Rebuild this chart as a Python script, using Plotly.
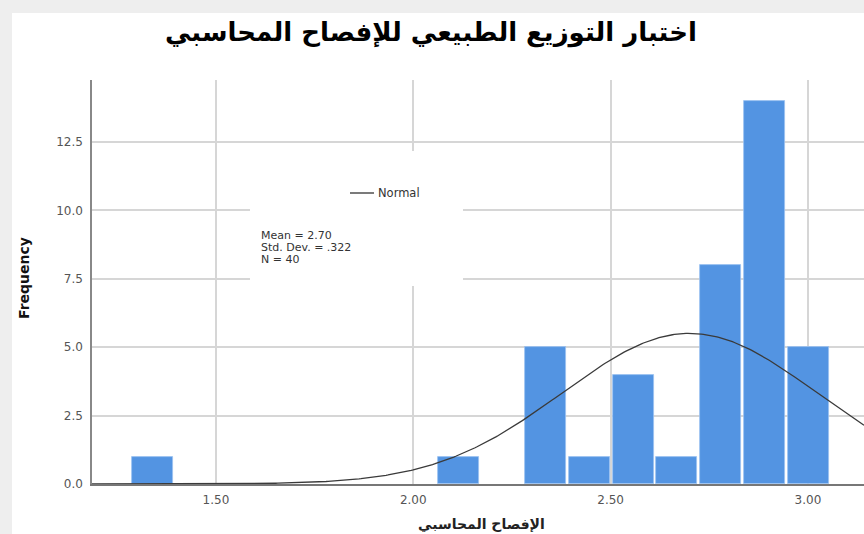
import numpy as np
import plotly.graph_objects as go

# ---- data ----
bin_centers = [1.339, 2.114, 2.336, 2.447, 2.558, 2.668, 2.779, 2.891, 3.001]
frequencies = [1, 1, 5, 1, 4, 1, 8, 14, 5]
bin_width = 0.1111
stat_mean = 2.70
stat_sd = 0.322
stat_n = 40
x_tick_vals = [1.5, 2.0, 2.5, 3.0]
x_tick_text = ["1.50", "2.00", "2.50", "3.00"]
y_tick_vals = [0, 2.5, 5, 7.5, 10, 12.5]
y_tick_text = ["0.0", "2.5", "5.0", "7.5", "10.0", "12.5"]
title_text = "اختبار التوزيع الطبيعي للإفصاح المحاسبي"
x_title = "الإفصاح المحاسبي"
y_title = "Frequency"
stats_lines = ["Mean = 2.70", "Std. Dev. = .322", "N = 40"]

# ---- layout geometry ----
W, H = 864, 534
L, R, T, B = 92, 0, 80, 50
XMIN, XMAX = 1.186, 3.142
YMIN, YMAX = 0, 14.77

def px(xp):  # pixel -> paper x
    return (xp - L) / (W - L - R)

def py(yp):  # pixel -> paper y
    return (H - B - yp) / (H - T - B)

def dx(xp):  # pixel -> data x
    return XMIN + (xp - L) / (W - L - R) * (XMAX - XMIN)

def dy(yp):  # pixel -> data y
    return YMIN + (H - B - yp) / (H - T - B) * (YMAX - YMIN)

FONT = "DejaVu Sans"

fig = go.Figure()
fig.add_trace(go.Bar(
    x=bin_centers, y=frequencies, width=0.104,
    marker=dict(color="#5394E2", line=dict(color="#9CC2F0", width=0.8)),
    showlegend=False, hoverinfo="skip",
))

xs = np.linspace(XMIN, XMAX, 400)
ys = stat_n * bin_width * np.exp(-0.5 * ((xs - stat_mean) / stat_sd) ** 2) / (stat_sd * np.sqrt(2 * np.pi))
fig.add_trace(go.Scatter(x=xs, y=ys, mode="lines",
                         line=dict(color="#3a3a3a", width=1.3),
                         showlegend=False, hoverinfo="skip", cliponaxis=True))

shapes = [
    # page frame
    dict(type="rect", xref="paper", yref="paper", layer="below",
         x0=px(12), x1=px(W + 5), y0=py(H + 5), y1=py(13),
         fillcolor="white", line=dict(width=0)),
    # white legend box over gridlines
    dict(type="rect", xref="x", yref="y", layer="between",
         x0=dx(250), x1=dx(463), y0=dy(286), y1=dy(151),
         fillcolor="white", line=dict(width=0)),
    # legend line sample
    dict(type="line", xref="paper", yref="paper",
         x0=px(350), x1=px(374), y0=py(193), y1=py(193),
         line=dict(color="#333333", width=1.3)),
]

annotations = [
    dict(text="<b>" + title_text + "</b>", xref="paper", yref="paper",
         x=px(431), y=py(33), xanchor="center", yanchor="middle", showarrow=False,
         font=dict(family=FONT, size=26, color="#000000")),
    dict(text="<b>" + x_title + "</b>", xref="paper", yref="paper",
         x=px(481), y=py(524), xanchor="center", yanchor="middle", showarrow=False,
         font=dict(family=FONT, size=14, color="#222222")),
    dict(text="<b>" + y_title + "</b>", xref="paper", yref="paper", textangle=-90,
         x=px(24), y=py(278), xanchor="center", yanchor="middle", showarrow=False,
         font=dict(family=FONT, size=14, color="#111111")),
    dict(text="Normal", xref="paper", yref="paper",
         x=px(376), y=py(193), xanchor="left", yanchor="middle", showarrow=False,
         font=dict(family=FONT, size=11.5, color="#333333")),
]
for i, line in enumerate(stats_lines):
    annotations.append(dict(text=line, xref="paper", yref="paper",
                            x=px(259), y=py(235 + 12 * i), xanchor="left", yanchor="middle",
                            showarrow=False, font=dict(family=FONT, size=11, color="#333333")))

fig.update_layout(
    width=W, height=H, autosize=False,
    margin=dict(l=L, r=R, t=T, b=B, pad=0),
    paper_bgcolor="#eeeeee", plot_bgcolor="white",
    font=dict(family=FONT, size=12, color="#555555"),
    bargap=0,
    xaxis=dict(range=[XMIN, XMAX], tickvals=x_tick_vals, ticktext=x_tick_text,
               showgrid=True, gridcolor="#D6D6D6", gridwidth=1.5,
               showline=True, linecolor="#777777", linewidth=1.5,
               zeroline=False, ticks="", ticklabelstandoff=4,
               tickfont=dict(family=FONT, size=12, color="#555555")),
    yaxis=dict(range=[YMIN, YMAX], tickvals=y_tick_vals, ticktext=y_tick_text,
               showgrid=True, gridcolor="#D6D6D6", gridwidth=1.5,
               showline=True, linecolor="#888888", linewidth=1.5,
               zeroline=False, ticks="", ticklabelstandoff=5,
               tickfont=dict(family=FONT, size=12, color="#555555")),
    shapes=shapes, annotations=annotations,
)

fig.write_html("out.html")
